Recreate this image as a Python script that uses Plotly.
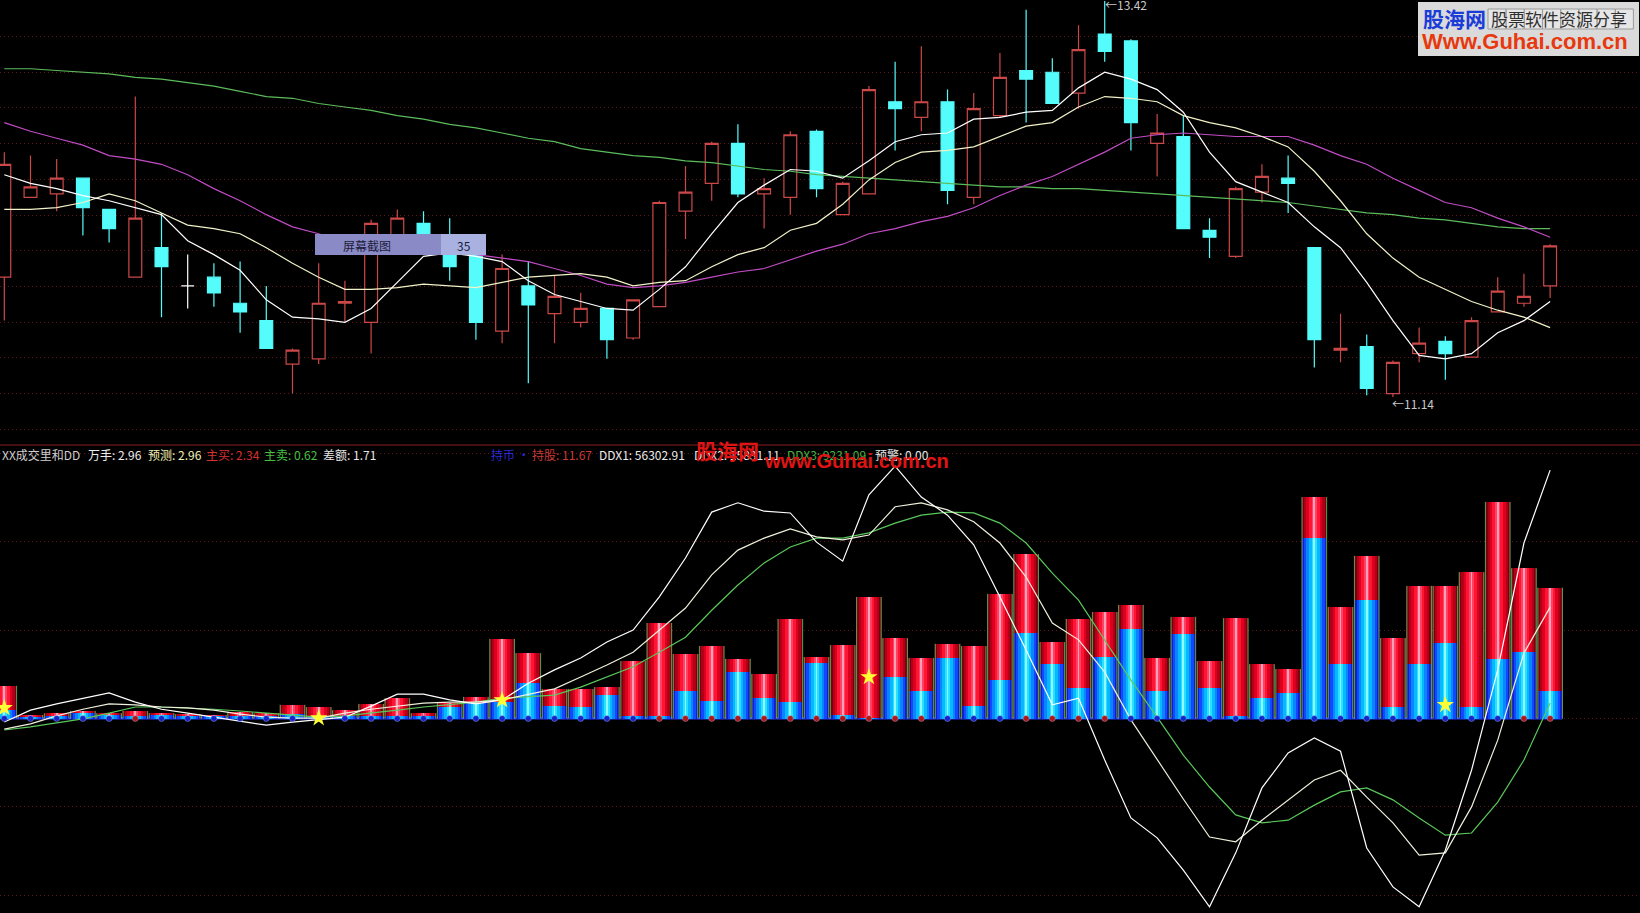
import plotly.graph_objects as go

# ---------------- price panel (60 sessions) ----------------
days = list(range(60))

opens = [11.83, 12.29, 12.31, 12.40, 12.22, 11.83, 12.00, 11.78, 11.83, 11.68,
         11.58, 11.33, 11.36, 11.68, 11.57, 12.04, 12.14, 12.06, 11.98, 11.52,
         11.78, 11.62, 11.57, 11.65, 11.48, 11.66, 12.21, 12.37, 12.60, 12.31,
         12.29, 12.67, 12.19, 12.31, 12.84, 12.75, 12.84, 12.29, 12.76, 13.02,
         13.01, 12.89, 13.23, 13.19, 12.60, 12.64, 12.10, 11.95, 12.32, 12.40,
         12.00, 11.41, 11.43, 11.16, 11.39, 11.46, 11.37, 11.63, 11.68, 11.78]
highs = [12.55, 12.53, 12.51, 12.40, 12.22, 12.87, 12.20, 11.96, 11.91, 11.92,
         11.78, 11.42, 11.91, 11.81, 12.16, 12.22, 12.21, 12.17, 11.99, 11.96,
         11.92, 11.84, 11.74, 11.65, 11.70, 12.27, 12.47, 12.61, 12.71, 12.40,
         12.67, 12.68, 12.38, 12.93, 13.07, 13.16, 12.91, 12.89, 13.12, 13.37,
         13.09, 13.28, 13.42, 13.20, 12.77, 12.76, 12.17, 12.35, 12.48, 12.53,
         12.00, 11.62, 11.50, 11.35, 11.54, 11.49, 11.60, 11.83, 11.85, 12.02]
lows = [11.58, 12.29, 12.21, 12.07, 12.03, 11.83, 11.60, 11.65, 11.66, 11.51,
        11.42, 11.16, 11.33, 11.57, 11.39, 12.04, 12.06, 11.81, 11.47, 11.45,
        11.22, 11.45, 11.54, 11.36, 11.47, 11.66, 12.05, 12.27, 12.29, 12.11,
        12.19, 12.29, 12.19, 12.31, 12.56, 12.67, 12.25, 12.25, 12.75, 12.72,
        12.83, 12.80, 13.07, 12.56, 12.41, 12.11, 11.94, 11.94, 12.26, 12.20,
        11.31, 11.34, 11.15, 11.14, 11.34, 11.24, 11.37, 11.63, 11.66, 11.71]
closes = [12.48, 12.35, 12.40, 12.23, 12.11, 12.17, 11.89, 11.78, 11.74, 11.63,
          11.42, 11.41, 11.68, 11.69, 12.14, 12.17, 12.06, 11.89, 11.57, 11.88,
          11.67, 11.72, 11.65, 11.47, 11.70, 12.26, 12.32, 12.60, 12.31, 12.34,
          12.65, 12.34, 12.37, 12.91, 12.80, 12.84, 12.33, 12.80, 12.98, 12.97,
          12.83, 13.14, 13.13, 12.72, 12.66, 12.11, 12.06, 12.34, 12.41, 12.37,
          11.47, 11.42, 11.19, 11.34, 11.45, 11.39, 11.58, 11.75, 11.72, 12.01]

ma5 = [12.42, 12.37, 12.34, 12.30, 12.27, 12.23, 12.19, 12.04, 11.96, 11.87,
       11.70, 11.60, 11.59, 11.57, 11.65, 11.80, 11.95, 11.97, 11.95, 11.92,
       11.81, 11.73, 11.69, 11.65, 11.64, 11.76, 11.89, 12.08, 12.26, 12.36,
       12.45, 12.44, 12.40, 12.50, 12.61, 12.65, 12.66, 12.74, 12.75, 12.78,
       12.79, 12.92, 13.01, 12.97, 12.91, 12.78, 12.55, 12.38, 12.32, 12.26,
       12.12, 12.00, 11.80, 11.58, 11.38, 11.36, 11.39, 11.51, 11.58, 11.69]
ma10 = [12.22, 12.22, 12.23, 12.26, 12.31, 12.27, 12.20, 12.13, 12.11, 12.08,
        12.00, 11.91, 11.83, 11.76, 11.76, 11.77, 11.79, 11.78, 11.77, 11.80,
        11.83, 11.84, 11.85, 11.83, 11.78, 11.80, 11.81, 11.89, 11.96, 12.00,
        12.10, 12.14, 12.25, 12.39, 12.49, 12.55, 12.56, 12.58, 12.64, 12.70,
        12.72, 12.81, 12.87, 12.86, 12.84, 12.76, 12.72, 12.69, 12.64, 12.58,
        12.44, 12.27, 12.08, 11.94, 11.83, 11.76, 11.69, 11.64, 11.60, 11.54]
ma30 = [12.72, 12.67, 12.63, 12.59, 12.53, 12.51, 12.48, 12.42, 12.34, 12.27,
        12.19, 12.12, 12.08, 12.03, 12.01, 12.00, 11.99, 11.98, 11.96, 11.94,
        11.92, 11.88, 11.84, 11.79, 11.77, 11.78, 11.80, 11.83, 11.86, 11.88,
        11.93, 11.98, 12.02, 12.08, 12.11, 12.15, 12.18, 12.23, 12.30, 12.36,
        12.41, 12.48, 12.55, 12.63, 12.65, 12.66, 12.65, 12.64, 12.64, 12.64,
        12.59, 12.53, 12.48, 12.40, 12.33, 12.26, 12.23, 12.17, 12.12, 12.06]
ma60 = [13.03, 13.03, 13.02, 13.01, 13.00, 12.98, 12.97, 12.95, 12.93, 12.90,
        12.87, 12.86, 12.83, 12.81, 12.79, 12.76, 12.74, 12.71, 12.69, 12.66,
        12.63, 12.61, 12.57, 12.55, 12.53, 12.52, 12.50, 12.49, 12.47, 12.45,
        12.44, 12.42, 12.41, 12.40, 12.39, 12.38, 12.37, 12.36, 12.35, 12.35,
        12.34, 12.34, 12.33, 12.32, 12.31, 12.30, 12.29, 12.28, 12.27, 12.26,
        12.24, 12.22, 12.20, 12.19, 12.17, 12.16, 12.14, 12.12, 12.11, 12.11]

# ---------------- volume / DDX panel ----------------
vol_total = [0.74, 0.08, 0.12, 0.17, 0.12, 0.17, 0.12, 0.10, 0.08, 0.15,
             0.12, 0.31, 0.26, 0.19, 0.33, 0.46, 0.12, 0.35, 0.49, 1.80,
             1.48, 0.67, 0.67, 0.71, 1.30, 2.16, 1.46, 1.64, 1.35, 1.01,
             2.25, 1.39, 1.66, 2.75, 1.82, 1.37, 1.69, 1.64, 2.82, 3.72,
             1.73, 2.25, 2.41, 2.57, 1.37, 2.30, 1.30, 2.27, 1.23, 1.12,
             5.01, 2.52, 3.68, 1.82, 3.00, 3.00, 3.31, 4.90, 3.40, 2.96]
vol_sell = [0.19, 0.03, 0.06, 0.12, 0.08, 0.06, 0.08, 0.06, 0.06, 0.06,
            0.06, 0.10, 0.06, 0.06, 0.06, 0.06, 0.06, 0.26, 0.35, 0.37,
            0.80, 0.28, 0.26, 0.53, 0.06, 0.06, 0.62, 0.40, 1.05, 0.46,
            0.37, 1.26, 0.08, 0.01, 0.94, 0.62, 1.37, 0.28, 0.87, 1.93,
            1.23, 0.69, 1.39, 2.02, 0.62, 1.91, 0.69, 0.06, 0.46, 0.58,
            4.08, 1.23, 2.68, 0.26, 1.23, 1.71, 0.26, 1.35, 1.50, 0.62]
ddx_a = [-0.08, 0.19, 0.33, 0.46, 0.58, 0.37, 0.21, 0.12, 0.03, -0.06,
         -0.15, -0.08, -0.03, 0.03, 0.28, 0.55, 0.55, 0.42, 0.33, 0.42,
         0.80, 1.10, 1.37, 1.73, 2.00, 2.75, 3.63, 4.67, 4.88, 4.69,
         4.65, 3.99, 3.56, 5.06, 5.71, 5.01, 4.60, 3.93, 2.75, 1.55,
         0.31, 0.46, -0.94, -2.25, -2.70, -3.43, -4.26, -3.04, -1.57, -0.78,
         -0.44, -0.74, -2.93, -3.81, -4.26, -2.98, -1.17, 1.10, 3.97, 5.62]
ddx_b = [-0.24, -0.12, 0.06, 0.21, 0.33, 0.31, 0.26, 0.24, 0.19, 0.10,
         0.03, 0.01, 0.01, 0.12, 0.21, 0.28, 0.35, 0.37, 0.37, 0.42,
         0.55, 0.67, 0.94, 1.21, 1.50, 2.00, 2.50, 3.25, 3.81, 4.08,
         4.29, 4.11, 4.04, 4.15, 4.79, 4.88, 4.72, 4.45, 3.97, 3.20,
         2.16, 1.78, 1.05, -0.03, -0.94, -1.82, -2.68, -2.79, -2.30, -1.84,
         -1.39, -1.17, -1.78, -2.36, -3.09, -3.04, -2.00, -0.49, 1.48, 2.52]
ddx_c = [-0.26, -0.19, -0.10, -0.01, 0.12, 0.26, 0.26, 0.24, 0.21, 0.17,
         0.12, 0.08, 0.03, 0.06, 0.12, 0.19, 0.26, 0.31, 0.37, 0.46,
         0.49, 0.53, 0.71, 0.94, 1.17, 1.50, 1.84, 2.45, 3.02, 3.52,
         3.88, 4.08, 4.08, 4.20, 4.42, 4.60, 4.67, 4.65, 4.42, 3.97,
         3.29, 2.68, 1.78, 0.87, 0.03, -0.83, -1.55, -2.18, -2.36, -2.30,
         -1.96, -1.66, -1.57, -1.84, -2.25, -2.64, -2.59, -1.89, -0.94, 0.35]
dot_state = ["B", "B", "B", "B", "B", "R", "B", "B", "B", "B",
             "B", "B", "B", "B", "B", "B", "B", "B", "B", "B",
             "B", "B", "B", "B", "B", "R", "R", "R", "R", "R",
             "R", "R", "R", "R", "R", "R", "B", "B", "B", "R",
             "R", "R", "R", "B", "B", "B", "B", "B", "B", "B",
             "B", "B", "B", "B", "B", "B", "B", "B", "R", "R"]
star_days = [0, 12, 19, 33, 55]
star_vals = [0.24, 0.01, 0.42, 0.94, 0.31]

# ---------------- header texts ----------------
legend_texts = ["XX成交里和DD", "万手: 2.96", "预测: 2.96", "主买: 2.34", "主卖: 0.62",
                "差额: 1.71", "持币 ·", "持股: 11.67", "DDX1: 56302.91",
                "DDX2: 15831.11", "DDX3: 9231.09", "预警: 0.00"]
legend_colors = ["#cfcfcf", "#ececec", "#f0f0b4", "#d83030", "#44c044",
                 "#e6e6e6", "#2a2ad8", "#c83a3a", "#ececec",
                 "#ececec", "#44b044", "#e6e6e6"]
legend_left = [0, 86, 146, 204, 262, 321, 489, 530, 597, 692, 785, 873]

W, H = 1640, 913
FONT = "Noto Sans CJK SC, DejaVu Sans, sans-serif"


def px(v):
    return v / W


def py(v):
    return 1 - v / H


RED = "#cc4848"
CYAN = "#54fcfc"

fig = go.Figure()

# moving averages
for series, color in [(ma60, "#5cbc5c"), (ma30, "#c04cc4")]:
    fig.add_trace(go.Scatter(x=days, y=series, mode="lines", line=dict(color=color, width=1.2),
                             xaxis="x", yaxis="y", hoverinfo="skip"))

normal = [i for i in days if opens[i] != closes[i]]
doji = [i for i in days if opens[i] == closes[i]]
fig.add_trace(go.Candlestick(
    x=[days[i] for i in normal], open=[opens[i] for i in normal], high=[highs[i] for i in normal],
    low=[lows[i] for i in normal], close=[closes[i] for i in normal],
    increasing=dict(line=dict(color=RED, width=1.2), fillcolor="#000000"),
    decreasing=dict(line=dict(color=CYAN, width=1.2), fillcolor=CYAN),
    whiskerwidth=0, xaxis="x", yaxis="y", hoverinfo="skip"))
fig.add_trace(go.Candlestick(
    x=[days[i] for i in doji], open=[opens[i] for i in doji], high=[highs[i] for i in doji],
    low=[lows[i] for i in doji], close=[closes[i] for i in doji],
    increasing=dict(line=dict(color="#ffffff", width=1.2), fillcolor="#ffffff"),
    decreasing=dict(line=dict(color="#ffffff", width=1.2), fillcolor="#ffffff"),
    whiskerwidth=0, xaxis="x", yaxis="y", hoverinfo="skip"))

for series, color in [(ma10, "#f2f2c8"), (ma5, "#ffffff")]:
    fig.add_trace(go.Scatter(x=days, y=series, mode="lines", line=dict(color=color, width=1.2),
                             xaxis="x", yaxis="y", hoverinfo="skip"))

# tube-like stacked bars (total = red, sell part = blue)
red_layers = [(0.92, "#7a0010"), (0.78, "#b00018"), (0.60, "#dc001e"), (0.40, "#ff1434"),
              (0.20, "#ff4262"), (0.07, "#ffa0b8")]
blue_layers = [(0.92, "#1020c8"), (0.78, "#1448ff"), (0.60, "#0a84ff"), (0.40, "#06b8ff"),
               (0.20, "#28e0ff"), (0.07, "#90f8ff")]
for w, c in red_layers:
    fig.add_trace(go.Bar(x=days, y=vol_total, width=w, marker=dict(color=c, line=dict(width=0)),
                         xaxis="x", yaxis="y2", hoverinfo="skip"))
for w, c in blue_layers:
    fig.add_trace(go.Bar(x=days, y=vol_sell, width=w, marker=dict(color=c, line=dict(width=0)),
                         xaxis="x", yaxis="y2", hoverinfo="skip"))

# thin side outlines of the bars
ox, oy = [], []
for d, t in zip(days, vol_total):
    for side in (-0.47, 0.47):
        ox += [d + side, d + side, None]
        oy += [0, t, None]
fig.add_trace(go.Scatter(x=ox, y=oy, mode="lines", line=dict(color="rgba(150,225,120,0.7)", width=1),
                         xaxis="x", yaxis="y2", hoverinfo="skip", connectgaps=False))

# DDX style lines
for series, color in [(ddx_c, "#5ac85a"), (ddx_b, "#f0f0dc"), (ddx_a, "#ffffff")]:
    fig.add_trace(go.Scatter(x=days, y=series, mode="lines", line=dict(color=color, width=1.2),
                             xaxis="x", yaxis="y2", hoverinfo="skip"))

# baseline dots
fig.add_trace(go.Scatter(x=days, y=[0] * len(days), mode="markers",
                         marker=dict(size=6, symbol="circle",
                                     color=["#b01818" if s == "R" else "#1426c8" for s in dot_state],
                                     line=dict(color="rgba(200,200,255,0.35)", width=1)),
                         xaxis="x", yaxis="y2", hoverinfo="skip"))
# stars
fig.add_trace(go.Scatter(x=star_days, y=star_vals, mode="markers",
                         marker=dict(size=13, symbol="star", color="#ffff33", line=dict(width=0)),
                         xaxis="x", yaxis="y2", hoverinfo="skip"))

grid_col = "#5e1818"
fig.update_layout(
    width=W, height=H, margin=dict(l=0, r=0, t=0, b=0, pad=0),
    paper_bgcolor="#000000", plot_bgcolor="#000000", showlegend=False,
    barmode="overlay", bargap=0, boxgap=0.3,
    xaxis=dict(range=[-0.164, 62.43], showgrid=False, zeroline=False, showticklabels=False,
               showline=False, ticks="", rangeslider=dict(visible=False), fixedrange=True),
    yaxis=dict(domain=[py(444), 1], range=[10.8697, 13.4258], showgrid=True, gridcolor=grid_col,
               griddash="1px,3px", gridwidth=1, tick0=13.2151, dtick=0.2055, showticklabels=False,
               zeroline=False, ticks="", showline=False, fixedrange=True),
    yaxis2=dict(domain=[0, py(446)], range=[-4.40, 6.165], showgrid=True, gridcolor=grid_col,
                griddash="1px,3px", gridwidth=1, tick0=0, dtick=2, showticklabels=False,
                zeroline=False, ticks="", showline=False, fixedrange=True),
    font=dict(family=FONT, color="#e0e0e0"),
    hovermode=False,
)

shapes = []
# panel separator
shapes.append(dict(type="line", xref="paper", yref="paper", x0=0, x1=1, y0=py(445), y1=py(445),
                   line=dict(color="#8c1c1c", width=1), layer="above"))
# baseline of the bars
shapes.append(dict(type="line", xref="x", yref="y2", x0=-0.47, x1=59.47, y0=0, y1=0,
                   line=dict(color="#2a3cff", width=2), layer="below"))
# "屏幕截图" box
shapes.append(dict(type="rect", xref="paper", yref="paper", x0=px(315), x1=px(441), y0=py(255), y1=py(234),
                   fillcolor="#8a8ac6", line=dict(width=0), layer="above"))
shapes.append(dict(type="rect", xref="paper", yref="paper", x0=px(441), x1=px(486), y0=py(255), y1=py(234),
                   fillcolor="#a9b1e0", line=dict(width=0), layer="above"))
# watermark panel top right
shapes.append(dict(type="rect", xref="paper", yref="paper", x0=px(1418), x1=px(1639), y0=py(56), y1=py(2),
                   fillcolor="#dadada", line=dict(width=0), layer="above"))
for k in range(8):
    x0 = 1488 + k * 18.2
    shapes.append(dict(type="rect", xref="paper", yref="paper", x0=px(x0), x1=px(x0 + 18), y0=py(29), y1=py(9),
                       fillcolor="#e6e6e6", line=dict(color="#9a9a9a", width=1), layer="above"))

annotations = []
for t, c, xl in zip(legend_texts, legend_colors, legend_left):
    annotations.append(dict(text=t, x=px(xl), y=py(454), xref="paper", yref="paper", xanchor="left",
                            yanchor="middle", showarrow=False, font=dict(size=12, color=c, family=FONT)))
annotations += [
    dict(text="屏幕截图", x=px(367), y=py(245), xref="paper", yref="paper", xanchor="center", yanchor="middle",
         showarrow=False, font=dict(size=12, color="#1c1c3c", family=FONT)),
    dict(text="35", x=px(464), y=py(245), xref="paper", yref="paper", xanchor="center", yanchor="middle",
         showarrow=False, font=dict(size=12, color="#1c1c3c", family=FONT)),
    dict(text="←11.14", x=px(1390), y=py(403), xref="paper", yref="paper", xanchor="left", yanchor="middle",
         showarrow=False, font=dict(size=12, color="#c8c8c8", family=FONT)),
    dict(text="←13.42", x=px(1103), y=py(5), xref="paper", yref="paper", xanchor="left", yanchor="middle",
         showarrow=False, font=dict(size=12, color="#c8c8c8", family=FONT)),
    # watermark (top right)
    dict(text="<b>股海网</b>", x=px(1421), y=py(18), xref="paper", yref="paper", xanchor="left", yanchor="middle",
         showarrow=False, font=dict(size=21, color="#1a3cd8", family=FONT)),
    dict(text="股票软件资源分享", x=px(1489), y=py(19), xref="paper", yref="paper", xanchor="left",
         yanchor="middle", showarrow=False, font=dict(size=17, color="#303030", family=FONT)),
    dict(text="<b>Www.Guhai.com.cn</b>", x=px(1420), y=py(41), xref="paper", yref="paper", xanchor="left",
         yanchor="middle", showarrow=False, font=dict(size=22, color="#e8380e", family="Liberation Sans, Arial")),
    # watermark (middle)
    dict(text="<b>股海网</b>", x=px(694), y=py(450), xref="paper", yref="paper", xanchor="left", yanchor="middle",
         showarrow=False, font=dict(size=21, color="#e01414", family=FONT)),
    dict(text="<b>www.Guhai.com.cn</b>", x=px(762), y=py(461), xref="paper", yref="paper", xanchor="left",
         yanchor="middle", showarrow=False, font=dict(size=20, color="#e01414", family="Liberation Sans, Arial")),
]
fig.update_layout(shapes=shapes, annotations=annotations)

fig.write_html("out.html", config={"displayModeBar": False, "staticPlot": True},
               post_script="document.body.style.margin='0px';document.body.style.overflow='hidden';"
                           "document.body.style.background='#000';")
